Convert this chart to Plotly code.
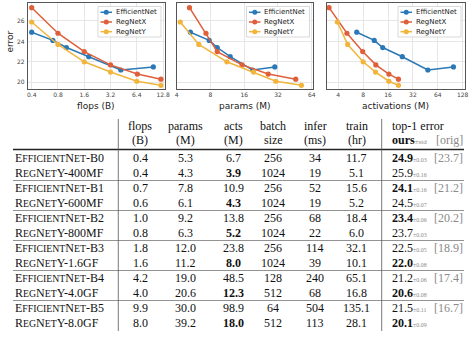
import plotly.graph_objects as go
import math

W, H = 470, 337
def X(px): return px / W
def Y(py): return 1 - py / H

# ---------------- plot series data ----------------
series_names = ["EfficientNet", "RegNetX", "RegNetY"]
series_colors = ["#2a78b6", "#de5f3a", "#f2b53c"]

regx_flops = [0.4, 0.8, 1.6, 3.2, 6.5, 12.1]
regx_params = [5.2, 7.3, 9.2, 15.3, 26.2, 46.1]
regx_acts = [3.1, 5.1, 7.9, 11.4, 16.4, 21.4]
regx_err = [27.3, 24.8, 23.0, 21.7, 20.8, 20.3]

regy_flops = [0.4, 0.8, 1.6, 3.2, 6.4, 12.1]
regy_params = [4.3, 6.3, 11.2, 19.4, 30.6, 51.8]
regy_acts = [3.9, 5.2, 8.0, 11.3, 16.4, 21.4]
regy_err = [25.9, 23.7, 22.0, 21.0, 20.1, 19.7]

# ---------------- table data ----------------
eff_names = ["B0", "B1", "B2", "B3", "B4", "B5"]
eff_flops = [0.4, 0.7, 1.0, 1.8, 4.2, 9.9]
eff_params = [5.3, 7.8, 9.2, 12.0, 19.0, 30.0]
eff_acts = [6.7, 10.9, 13.8, 23.8, 48.5, 98.9]
eff_batch = [256, 256, 256, 256, 128, 64]
eff_infer = [34, 52, 68, 114, 240, 504]
eff_train = [11.7, 15.6, 18.4, 32.1, 65.1, 135.1]
eff_err = [24.9, 24.1, 23.4, 22.5, 21.2, 21.5]
eff_std = [0.03, 0.16, 0.06, 0.05, 0.06, 0.11]
eff_orig = [23.7, 21.2, 20.2, 18.9, 17.4, 16.7]

regy_names = ["400MF", "600MF", "800MF", "1.6GF", "4.0GF", "8.0GF"]
regy_t_flops = [0.4, 0.6, 0.8, 1.6, 4.0, 8.0]
regy_t_params = [4.3, 6.1, 6.3, 11.2, 20.6, 39.2]
regy_t_acts = [3.9, 4.3, 5.2, 8.0, 12.3, 18.0]
regy_batch = [1024, 1024, 1024, 1024, 512, 512]
regy_infer = [19, 19, 22, 39, 68, 113]
regy_train = [5.1, 5.2, 6.0, 10.1, 16.8, 28.1]
regy_t_err = [25.9, 24.5, 23.7, 22.0, 20.6, 20.1]
regy_std = [0.16, 0.07, 0.03, 0.08, 0.08, 0.09]

header1 = ["flops", "params", "acts", "batch", "infer", "train"]
header2 = ["(B)", "(M)", "(M)", "size", "(ms)", "(hr)"]

flops_ticks = [0.4, 0.8, 1.6, 3.2, 6.4, 12.8]
params_ticks = [4, 8, 16, 32, 64]
acts_ticks = [4, 8, 16, 32, 64, 128]
err_ticks = [20, 22, 24, 26]
x_titles = ["flops (B)", "params (M)", "activations (M)"]

# ---------------- figure ----------------
fig = go.Figure()

panels = [
    dict(xd=(27.7, 164.5), xr=(0.36, 13.3), ticks=flops_ticks,
         data=[(eff_flops, eff_err), (regx_flops, regx_err), (regy_flops, regy_err)]),
    dict(xd=(176.7, 313.0), xr=(4.0, 65.7), ticks=params_ticks,
         data=[(eff_params, eff_err), (regx_params, regx_err), (regy_params, regy_err)]),
    dict(xd=(326.7, 464.5), xr=(2.9, 134.6), ticks=acts_ticks,
         data=[(eff_acts, eff_err), (regx_acts, regx_err), (regy_acts, regy_err)]),
]
ytop, ybot = 3.3, 89.3

shapes = []
annotations = []
tickfont = dict(size=6, color="#444", family="DejaVu Sans")

for i, p in enumerate(panels):
    n = "" if i == 0 else str(i + 1)
    xa = dict(type="log", domain=[X(p["xd"][0]), X(p["xd"][1])],
              range=[math.log10(p["xr"][0]), math.log10(p["xr"][1])],
              tickvals=p["ticks"], ticktext=[("%g" % t) for t in p["ticks"]],
              showgrid=True, gridcolor="#e6e6e6", gridwidth=0.8,
              showline=True, mirror=True, linecolor="#555", linewidth=0.8,
              ticks="", tickfont=tickfont, zeroline=False, automargin=False,
              anchor="y" + n, ticklabelstandoff=0)
    ya = dict(domain=[Y(ybot), Y(ytop)], range=[19.31, 27.73], tickvals=err_ticks,
              showgrid=True, gridcolor="#e6e6e6", gridwidth=0.8,
              showline=True, mirror=True, linecolor="#555", linewidth=0.8,
              ticks="", tickfont=tickfont, zeroline=False, automargin=False,
              showticklabels=(i == 0), anchor="x" + n, ticklabelstandoff=1)
    fig.update_layout(**{"xaxis" + n: xa, "yaxis" + n: ya})
    for (xs, ys), name, col in zip(p["data"], series_names, series_colors):
        fig.add_trace(go.Scatter(x=xs, y=ys, mode="lines+markers", name=name,
                                 xaxis="x" + n, yaxis="y" + n, showlegend=False,
                                 line=dict(color=col, width=1.5),
                                 marker=dict(color=col, size=5.2)))
    # x title
    cx = (p["xd"][0] + p["xd"][1]) / 2
    annotations.append(dict(x=X(cx), y=Y(105.5), xref="paper", yref="paper",
                            text=x_titles[i], showarrow=False, xanchor="center",
                            yanchor="middle", borderpad=0,
                            font=dict(size=9, color="#222", family="DejaVu Sans")))
    # custom legend
    bx1 = p["xd"][1] - 3.5
    bx0 = bx1 - 63
    by0, by1 = 6.5, 37.0
    shapes.append(dict(type="rect", xref="paper", yref="paper",
                       x0=X(bx0), x1=X(bx1), y0=Y(by1), y1=Y(by0),
                       line=dict(color="#cfcfcf", width=0.8),
                       fillcolor="rgba(255,255,255,0.85)", layer="above"))
    for k, (name, col) in enumerate(zip(series_names, series_colors)):
        ly = 12.3 + k * 9.7
        shapes.append(dict(type="line", xref="paper", yref="paper",
                           x0=X(bx0 + 2.5), x1=X(bx0 + 14), y0=Y(ly), y1=Y(ly),
                           line=dict(color=col, width=1.5), layer="above"))
        r = 2.5
        mx = bx0 + 8.25
        shapes.append(dict(type="circle", xref="paper", yref="paper",
                           x0=X(mx - r), x1=X(mx + r), y0=Y(ly + r), y1=Y(ly - r),
                           line=dict(color=col, width=0), fillcolor=col, layer="above"))
        annotations.append(dict(x=X(bx0 + 16.5), y=Y(ly), xref="paper", yref="paper",
                                text=name, showarrow=False, xanchor="left",
                                yanchor="middle", borderpad=0,
                                font=dict(size=7, color="#222", family="DejaVu Sans")))

# y title
annotations.append(dict(x=X(9.5), y=Y(42), xref="paper", yref="paper", text="error",
                        textangle=-90, showarrow=False, xanchor="center", yanchor="middle",
                        font=dict(size=9, color="#222", family="DejaVu Sans")))

# ---------------- table ----------------
TF = "Liberation Serif"
FS = 12
SC = 9.8
TC = "#111"
GC = "#8a8a8a"

def sm(s):
    return "<span style='font-size:%gpx'>%s</span>" % (SC, s)

def eff_label(b):
    return "E" + sm("FFICIENT") + "N" + sm("ET") + "-" + b

def regy_label(b):
    return "R" + sm("EG") + "N" + sm("ET") + "Y-" + b

def txt(x, y, s, anchor="center", color=TC, size=FS):
    annotations.append(dict(x=X(x), y=Y(y), xref="paper", yref="paper", text=s,
                            showarrow=False, xanchor=anchor, yanchor="middle",
                            borderpad=0,
                            font=dict(size=size, color=color, family=TF)))

col_x = [140, 185.7, 233, 273.3, 315, 356.7]
name_x = 13.5
err_x = 391
orig_x = 463.5
hy1, hy2 = 126.2, 140.2
for cx, h1, h2 in zip(col_x, header1, header2):
    txt(cx, hy1, h1)
    txt(cx, hy2, h2)
txt(err_x, hy1, "top-1 error", anchor="left")
txt(err_x, hy2, "<b>ours</b><span style='font-size:7px;color:%s'>±std</span>" % GC,
    anchor="left")
txt(orig_x, hy2, "[orig]", anchor="right", color=GC)

def b(s, cond):
    return "<b>%s</b>" % s if cond else s

row0 = 158.0
step = 15.0
for k in range(6):
    ye = row0 + 2 * k * step
    yr = ye + step
    txt(name_x, ye, eff_label(eff_names[k]), anchor="left")
    txt(name_x, yr, regy_label(regy_names[k]), anchor="left")
    e_vals = ["%.1f" % eff_flops[k], "%.1f" % eff_params[k],
              b("%.1f" % eff_acts[k], eff_acts[k] < regy_t_acts[k]),
              "%d" % eff_batch[k], "%d" % eff_infer[k], "%.1f" % eff_train[k]]
    r_vals = ["%.1f" % regy_t_flops[k], "%.1f" % regy_t_params[k],
              b("%.1f" % regy_t_acts[k], regy_t_acts[k] < eff_acts[k]),
              "%d" % regy_batch[k], "%d" % regy_infer[k], "%.1f" % regy_train[k]]
    for cx, ev, rv in zip(col_x, e_vals, r_vals):
        txt(cx, ye, ev)
        txt(cx, yr, rv)
    e_err = b("%.1f" % eff_err[k], eff_err[k] < regy_t_err[k])
    r_err = b("%.1f" % regy_t_err[k], regy_t_err[k] < eff_err[k])
    txt(err_x, ye, e_err + "<span style='font-size:6px;color:%s'>±%.2f</span>" % (GC, eff_std[k]),
        anchor="left")
    txt(err_x, yr, r_err + "<span style='font-size:6px;color:%s'>±%.2f</span>" % (GC, regy_std[k]),
        anchor="left")
    txt(orig_x, ye, "[%.1f]" % eff_orig[k], anchor="right", color=GC)
    if k > 0:
        ly = ye - step / 2
        shapes.append(dict(type="line", xref="paper", yref="paper", x0=X(13), x1=X(464),
                           y0=Y(ly), y1=Y(ly), line=dict(color="#777", width=0.8)))

# thick header rule
shapes.append(dict(type="line", xref="paper", yref="paper", x0=X(13), x1=X(464),
                   y0=Y(149.5), y1=Y(149.5), line=dict(color="#222", width=1.3)))
# vertical rules
for vx in [118.3, 381.7]:
    shapes.append(dict(type="line", xref="paper", yref="paper", x0=X(vx), x1=X(vx),
                       y0=Y(119), y1=Y(331), line=dict(color="#555", width=0.8)))

fig.update_layout(width=W, height=H, margin=dict(l=0, r=0, t=0, b=0),
                  paper_bgcolor="white", plot_bgcolor="white",
                  showlegend=False, shapes=shapes, annotations=annotations)

fig.write_html("out.html")
